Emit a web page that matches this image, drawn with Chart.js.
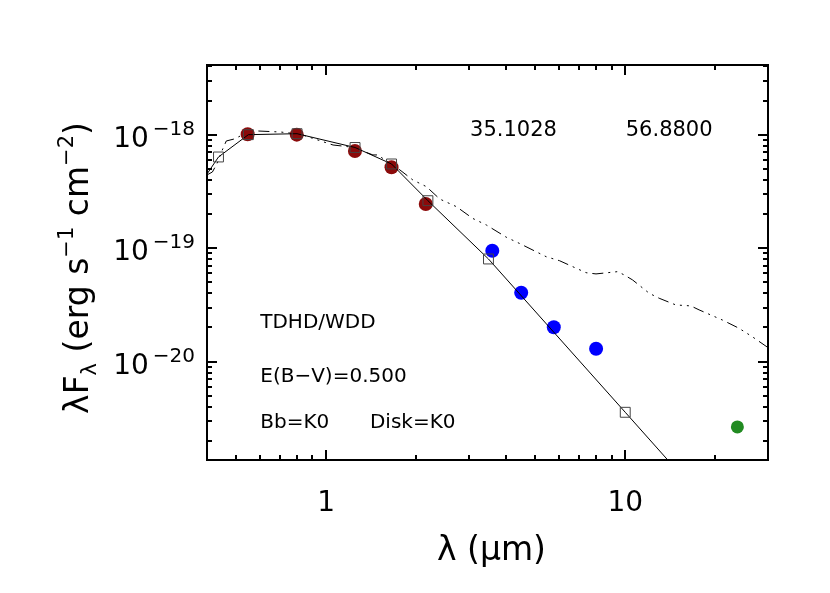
<!DOCTYPE html>
<html lang="en">
<head>
<meta charset="UTF-8">
<title>SED fit</title>
<script src="https://cdn.jsdelivr.net/npm/chart.js@4.4.0/dist/chart.umd.min.js"></script>
<style>
  html, body { margin: 0; padding: 0; background: #fff; }
  #wrap { width: 830px; height: 593px; }
</style>
</head>
<body>
<div id="wrap"><canvas id="sed" width="830" height="593"></canvas></div>
<script>
// model SED, drawn dash-dot-dot-dot (wavelength in micron, lambda*F_lambda)
const sedWave = [0.40, 0.417, 0.433, 0.45, 0.464, 0.494, 0.525, 0.589, 0.703, 0.819,
  1.055, 1.23, 1.434, 1.49, 1.573, 1.765, 1.95, 2.166, 2.399, 2.728, 3.09, 3.434,
  4.0, 4.434, 5.441, 6.026, 7.396, 7.985, 9.426, 9.92, 10.58, 12.02, 12.98, 14.76,
  16.56, 17.65, 21.1, 23.99, 26.57, 30.0];
const sedFlux = [4.42e-19, 4.69e-19, 5.63e-19, 7.33e-19, 8.8e-19, 9.17e-19, 9.94e-19, 1.078e-18, 1.056e-18, 1.01e-18,
  8.11e-19, 7.74e-19, 6.63e-19, 6.63e-19, 5.98e-19, 4.89e-19, 3.99e-19, 3.48e-19, 2.71e-19, 2.32e-19, 1.83e-19, 1.6e-19,
  1.25e-19, 1.1e-19, 8.41e-20, 7.76e-20, 6.08e-20, 5.93e-20, 6.21e-20, 5.81e-20, 5.25e-20, 4.01e-20, 3.62e-20, 3.16e-20,
  3.1e-20, 2.86e-20, 2.33e-20, 1.97e-20, 1.66e-20, 1.33e-20];

// fitted photosphere, solid line
const fitWave = [0.40, 0.437, 0.55, 0.80, 1.25, 1.655, 2.19, 3.49, 10.0, 30.0];
const fitFlux = [4.5e-19, 6.36e-19, 1.0e-18, 1.02e-18, 7.71e-19, 5.52e-19, 2.62e-19, 8.03e-20, 3.58e-21, 1.39e-22];

// model photometry, open squares
const boxWave = [0.437, 0.55, 0.80, 1.25, 1.655, 2.19, 3.49, 10.0];
const boxFlux = [6.36e-19, 1.0e-18, 1.02e-18, 7.71e-19, 5.52e-19, 2.62e-19, 8.03e-20, 3.58e-21];

// observed photometry
const optWave = [0.547, 0.798, 1.249, 1.655, 2.154];
const optFlux = [1.01e-18, 1.0e-18, 7.18e-19, 5.16e-19, 2.45e-19];
const iracWave = [3.594, 4.49, 5.77, 7.99];
const iracFlux = [9.5e-20, 4.05e-20, 2.01e-20, 1.30e-20];
const mipsWave = [23.7];
const mipsFlux = [2.66e-21];

// axes
const xMin = 0.4, xMax = 30;
const yMin = 1.36e-21, yMax = 4.11e-18;
const xMajorTicks = [1, 10];
const xTickLabels = ['1', '10'];
const yMajorExps = [-18, -19, -20];
const yTickLabels = ['\u221218', '\u221219', '\u221220'];

// text notes, anchored in data units
const notes = [
  { text: '35.1028', wave: 4.23, flux: 9.8e-19, align: 'center', size: 21 },
  { text: '56.8800', wave: 14.02, flux: 9.8e-19, align: 'center', size: 21 },
  { text: 'TDHD/WDD', wave: 0.6026, flux: 1.98e-20, align: 'left', size: 20 },
  { text: 'E(B\u2212V)=0.500', wave: 0.6026, flux: 6.64e-21, align: 'left', size: 20 },
  { text: 'Bb=K0', wave: 0.6026, flux: 2.61e-21, align: 'left', size: 20 },
  { text: 'Disk=K0', wave: 1.402, flux: 2.61e-21, align: 'left', size: 20 }
];

const FONT = '"DejaVu Sans", sans-serif';

function pts(xs, ys) {
  return xs.map((v, i) => ({ x: v, y: ys[i] }));
}

// draws the IDL style box, inward ticks, labels and titles
const idlAxes = {
  id: 'idlAxes',
  afterDraw(chart) {
    const { ctx, chartArea: a, scales } = chart;
    const x = scales.x, y = scales.y;
    ctx.save();
    ctx.strokeStyle = '#000';
    ctx.fillStyle = '#000';
    ctx.lineWidth = 2;

    function seg(x1, y1, x2, y2) {
      ctx.beginPath();
      ctx.moveTo(x1, y1);
      ctx.lineTo(x2, y2);
      ctx.stroke();
    }

    // x ticks, top and bottom
    for (let d = -1; d <= 1; d++) {
      for (let m = 1; m <= 9; m++) {
        const v = m * Math.pow(10, d);
        if (v <= xMin * 1.001 || v >= xMax * 0.999) continue;
        const px = Math.round(x.getPixelForValue(v));
        const len = m === 1 ? 10 : 5;
        seg(px, a.bottom, px, a.bottom - len);
        seg(px, a.top, px, a.top + len);
      }
    }
    // y ticks, left and right
    for (let e = -22; e <= -17; e++) {
      for (let m = 1; m <= 9; m++) {
        const v = m * Math.pow(10, e);
        if (v <= yMin * 1.001 || v >= yMax * 0.999) continue;
        const py = Math.round(y.getPixelForValue(v));
        const len = m === 1 ? 10 : 5;
        seg(a.left, py, a.left + len, py);
        seg(a.right, py, a.right - len, py);
      }
    }
    ctx.strokeRect(a.left, a.top, a.right - a.left, a.bottom - a.top);

    // x tick labels
    ctx.font = '28px ' + FONT;
    ctx.textAlign = 'center';
    ctx.textBaseline = 'middle';
    xMajorTicks.forEach((v, i) => {
      ctx.fillText(xTickLabels[i], x.getPixelForValue(v), a.bottom + 44);
    });

    // y tick labels 10^n
    ctx.textBaseline = 'alphabetic';
    ctx.textAlign = 'right';
    yMajorExps.forEach((e, i) => {
      const py = y.getPixelForValue(Math.pow(10, e));
      const right = a.left - 12;
      ctx.font = '20px ' + FONT;
      const ew = ctx.measureText(yTickLabels[i]).width;
      ctx.fillText(yTickLabels[i], right, py);
      ctx.font = '28px ' + FONT;
      ctx.fillText('10', right - ew - 4, py + 12);
    });

    // notes
    notes.forEach(n => {
      ctx.font = n.size + 'px ' + FONT;
      ctx.textAlign = n.align;
      ctx.fillText(n.text, x.getPixelForValue(n.wave), y.getPixelForValue(n.flux));
    });

    // x title
    ctx.font = '33px ' + FONT;
    ctx.textAlign = 'center';
    ctx.fillText('\u03bb (\u03bcm)', (a.left + a.right) / 2 + 4, 560);

    // y title, rotated, with sub/superscripts
    const parts = [
      { t: '\u03bbF', s: 33, dy: 0 },
      { t: '\u03bb', s: 21, dy: 8 },
      { t: ' (erg s', s: 33, dy: 0 },
      { t: '\u22121', s: 21, dy: -15 },
      { t: ' cm', s: 33, dy: 0 },
      { t: '\u22122', s: 21, dy: -15 },
      { t: ')', s: 33, dy: 0 }
    ];
    let total = 0;
    parts.forEach(p => { ctx.font = p.s + 'px ' + FONT; p.w = ctx.measureText(p.t).width; total += p.w; });
    ctx.translate(88, 268);
    ctx.rotate(-Math.PI / 2);
    ctx.textAlign = 'left';
    let cx = -total / 2;
    parts.forEach(p => {
      ctx.font = p.s + 'px ' + FONT;
      ctx.fillText(p.t, cx, p.dy);
      cx += p.w;
    });
    ctx.restore();
  }
};

new Chart(document.getElementById('sed'), {
  type: 'scatter',
  data: {
    datasets: [
      {
        data: pts(boxWave, boxFlux),
        pointStyle: 'rect', pointRadius: 7,
        backgroundColor: 'rgba(0,0,0,0)', borderColor: '#444', borderWidth: 1,
        order: 1
      },
      {
        data: pts(fitWave, fitFlux),
        showLine: true, pointRadius: 0,
        borderColor: '#000', borderWidth: 1,
        order: 2
      },
      {
        data: pts(optWave, optFlux),
        pointRadius: 7, backgroundColor: '#8b0a0a', borderWidth: 0,
        order: 3
      },
      {
        data: pts(iracWave, iracFlux),
        pointRadius: 7, backgroundColor: '#0000ff', borderWidth: 0,
        order: 3
      },
      {
        data: pts(mipsWave, mipsFlux),
        pointRadius: 6.5, backgroundColor: '#228b22', borderWidth: 0,
        order: 3
      },
      {
        data: pts(sedWave, sedFlux),
        showLine: true, pointRadius: 0,
        borderColor: '#000', borderWidth: 1,
        borderDash: [11, 5, 2, 5, 2, 5, 2, 5],
        order: 4
      }
    ]
  },
  options: {
    responsive: false,
    animation: false,
    events: [],
    layout: { padding: { left: 207, right: 62, top: 65, bottom: 133 } },
    plugins: { legend: { display: false }, tooltip: { enabled: false } },
    scales: {
      x: { type: 'logarithmic', min: xMin, max: xMax, display: false },
      y: { type: 'logarithmic', min: yMin, max: yMax, display: false }
    }
  },
  plugins: [idlAxes]
});
</script>
</body>
</html>
